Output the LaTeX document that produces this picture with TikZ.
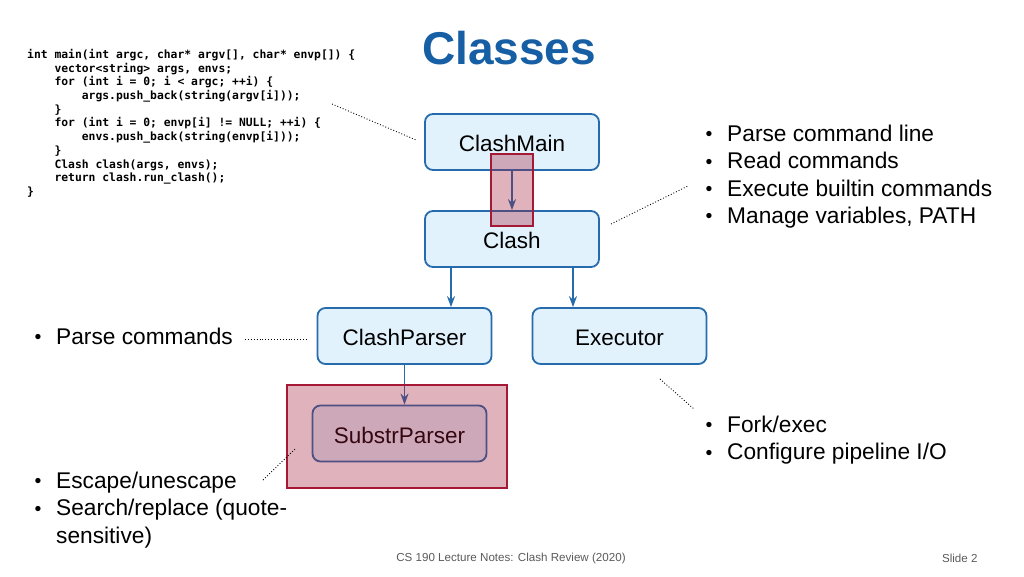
\documentclass[tikz,border=0pt]{standalone}
\usepackage{fontspec}
\setmainfont{Liberation Sans}
\newfontfamily\codefont{DejaVu Sans Mono}
\usetikzlibrary{arrows.meta}
\definecolor{titleblue}{RGB}{22,95,165}
\definecolor{boxborder}{RGB}{38,108,172}
\definecolor{boxfill}{RGB}{226,242,252}
\definecolor{hilite}{RGB}{160,20,50}
\definecolor{hiliteborder}{RGB}{165,25,55}
\definecolor{footgray}{RGB}{90,90,90}
\tikzset{
  classbox/.style={draw=boxborder, line width=1.8pt, fill=boxfill, rounded corners=8pt,
    minimum width=174pt, minimum height=56pt, font=\fontsize{22.5}{25}\selectfont, inner sep=0pt,
    text height=22pt, text depth=3pt},
  flow/.style={draw=boxborder, line width=1.7pt, -{Stealth[length=11pt,width=8pt]}},
  hibox/.style={draw=hiliteborder, line width=1.6pt, fill=hilite, fill opacity=0.33},
  dotline/.style={dotted, line width=0.9pt},
  bullets/.style={align=left, anchor=north west, inner sep=0pt, font=\fontsize{22.7}{27.3}\selectfont},
}
\newcommand{\bul}{\raisebox{0.8pt}{\fontsize{19.5}{19.5}\selectfont\textbullet}\hspace{14.7pt}}
\begin{document}
\begin{tikzpicture}[x=1pt,y=-1pt]
\useasboundingbox (0,0) rectangle (1024,576);
% title
\node[text=titleblue, font=\fontsize{46}{50}\selectfont\bfseries] (title) at (509,48) {Classes};
% code
\node[anchor=north west, inner sep=0pt, align=left, font=\codefont\bfseries\fontsize{11.35}{13.7}\selectfont] (code) at (27,49) {%
int main(int argc, char* argv[], char* envp[]) \{\\
\ \ \ \ vector<string> args, envs;\\
\ \ \ \ for (int i = 0; i < argc; ++i) \{\\
\ \ \ \ \ \ \ \ args.push\_back(string(argv[i]));\\
\ \ \ \ \}\\
\ \ \ \ for (int i = 0; envp[i] != NULL; ++i) \{\\
\ \ \ \ \ \ \ \ envs.push\_back(string(envp[i]));\\
\ \ \ \ \}\\
\ \ \ \ Clash clash(args, envs);\\
\ \ \ \ return clash.run\_clash();\\
\}};
% boxes
\node[classbox] (main) at (512,142) {ClashMain};
\node[classbox] (clash) at (512,239) {Clash};
\node[classbox] (parser) at (404.5,336) {ClashParser};
\node[classbox] (exec) at (619.5,336) {Executor};
\node[classbox] (substr) at (399.5,433.5) {SubstrParser};
% arrows
\draw[flow] (main.south) -- (clash.north);
\draw[flow] (clash.south -| parser.north) ++(46.5,0) coordinate (c1) -- (c1 |- parser.north);
\draw[flow] (clash.south -| exec.north) ++(-46.5,0) coordinate (c2) -- (c2 |- exec.north);
\draw[flow] (parser.south) -- (parser.south |- substr.north);
% highlight overlays
\draw[hibox] (491,154) rectangle (533,226);
\draw[hibox] (287,385) rectangle (507,488);
% bullet lists
\node[bullets] (l1) at (705.5,125) {%
\bul Parse command line\\
\bul Read commands\\
\bul Execute builtin commands\\
\bul Manage variables, PATH};
\node[bullets] (l2) at (34.5,328) {\bul Parse commands};
\node[bullets] (l3) at (705.5,416) {%
\bul Fork/exec\\
\bul Configure pipeline I/O};
\node[bullets] (l4) at (34.5,472) {%
\bul Escape/unescape\\
\bul Search/replace (quote-\\
\hspace{21.5pt}sensitive)};
% dotted connectors
\coordinate (d1a) at (332,104); \coordinate (d1b) at (416,140);
\coordinate (d2a) at (611,224); \coordinate (d2b) at (688,186);
\coordinate (d3a) at (245,339); \coordinate (d3b) at (306,339);
\coordinate (d4a) at (660,379); \coordinate (d4b) at (694,409);
\coordinate (d5a) at (263,480); \coordinate (d5b) at (295,449);
\draw[dotline] (d1a) -- (d1b);
\draw[dotline] (d2a) -- (d2b);
\draw[dotline] (d3a) -- (d3b);
\draw[dotline] (d4a) -- (d4b);
\draw[dotline] (d5a) -- (d5b);
% footer
\node[text=footgray, font=\fontsize{11.6}{13}\selectfont] (foot) at (511,558) {CS 190 Lecture Notes: Clash Review (2020)};
\node[text=footgray, font=\fontsize{11.6}{13}\selectfont, anchor=east] (slide) at (981,558) {Slide 2};
\end{tikzpicture}
\end{document}
